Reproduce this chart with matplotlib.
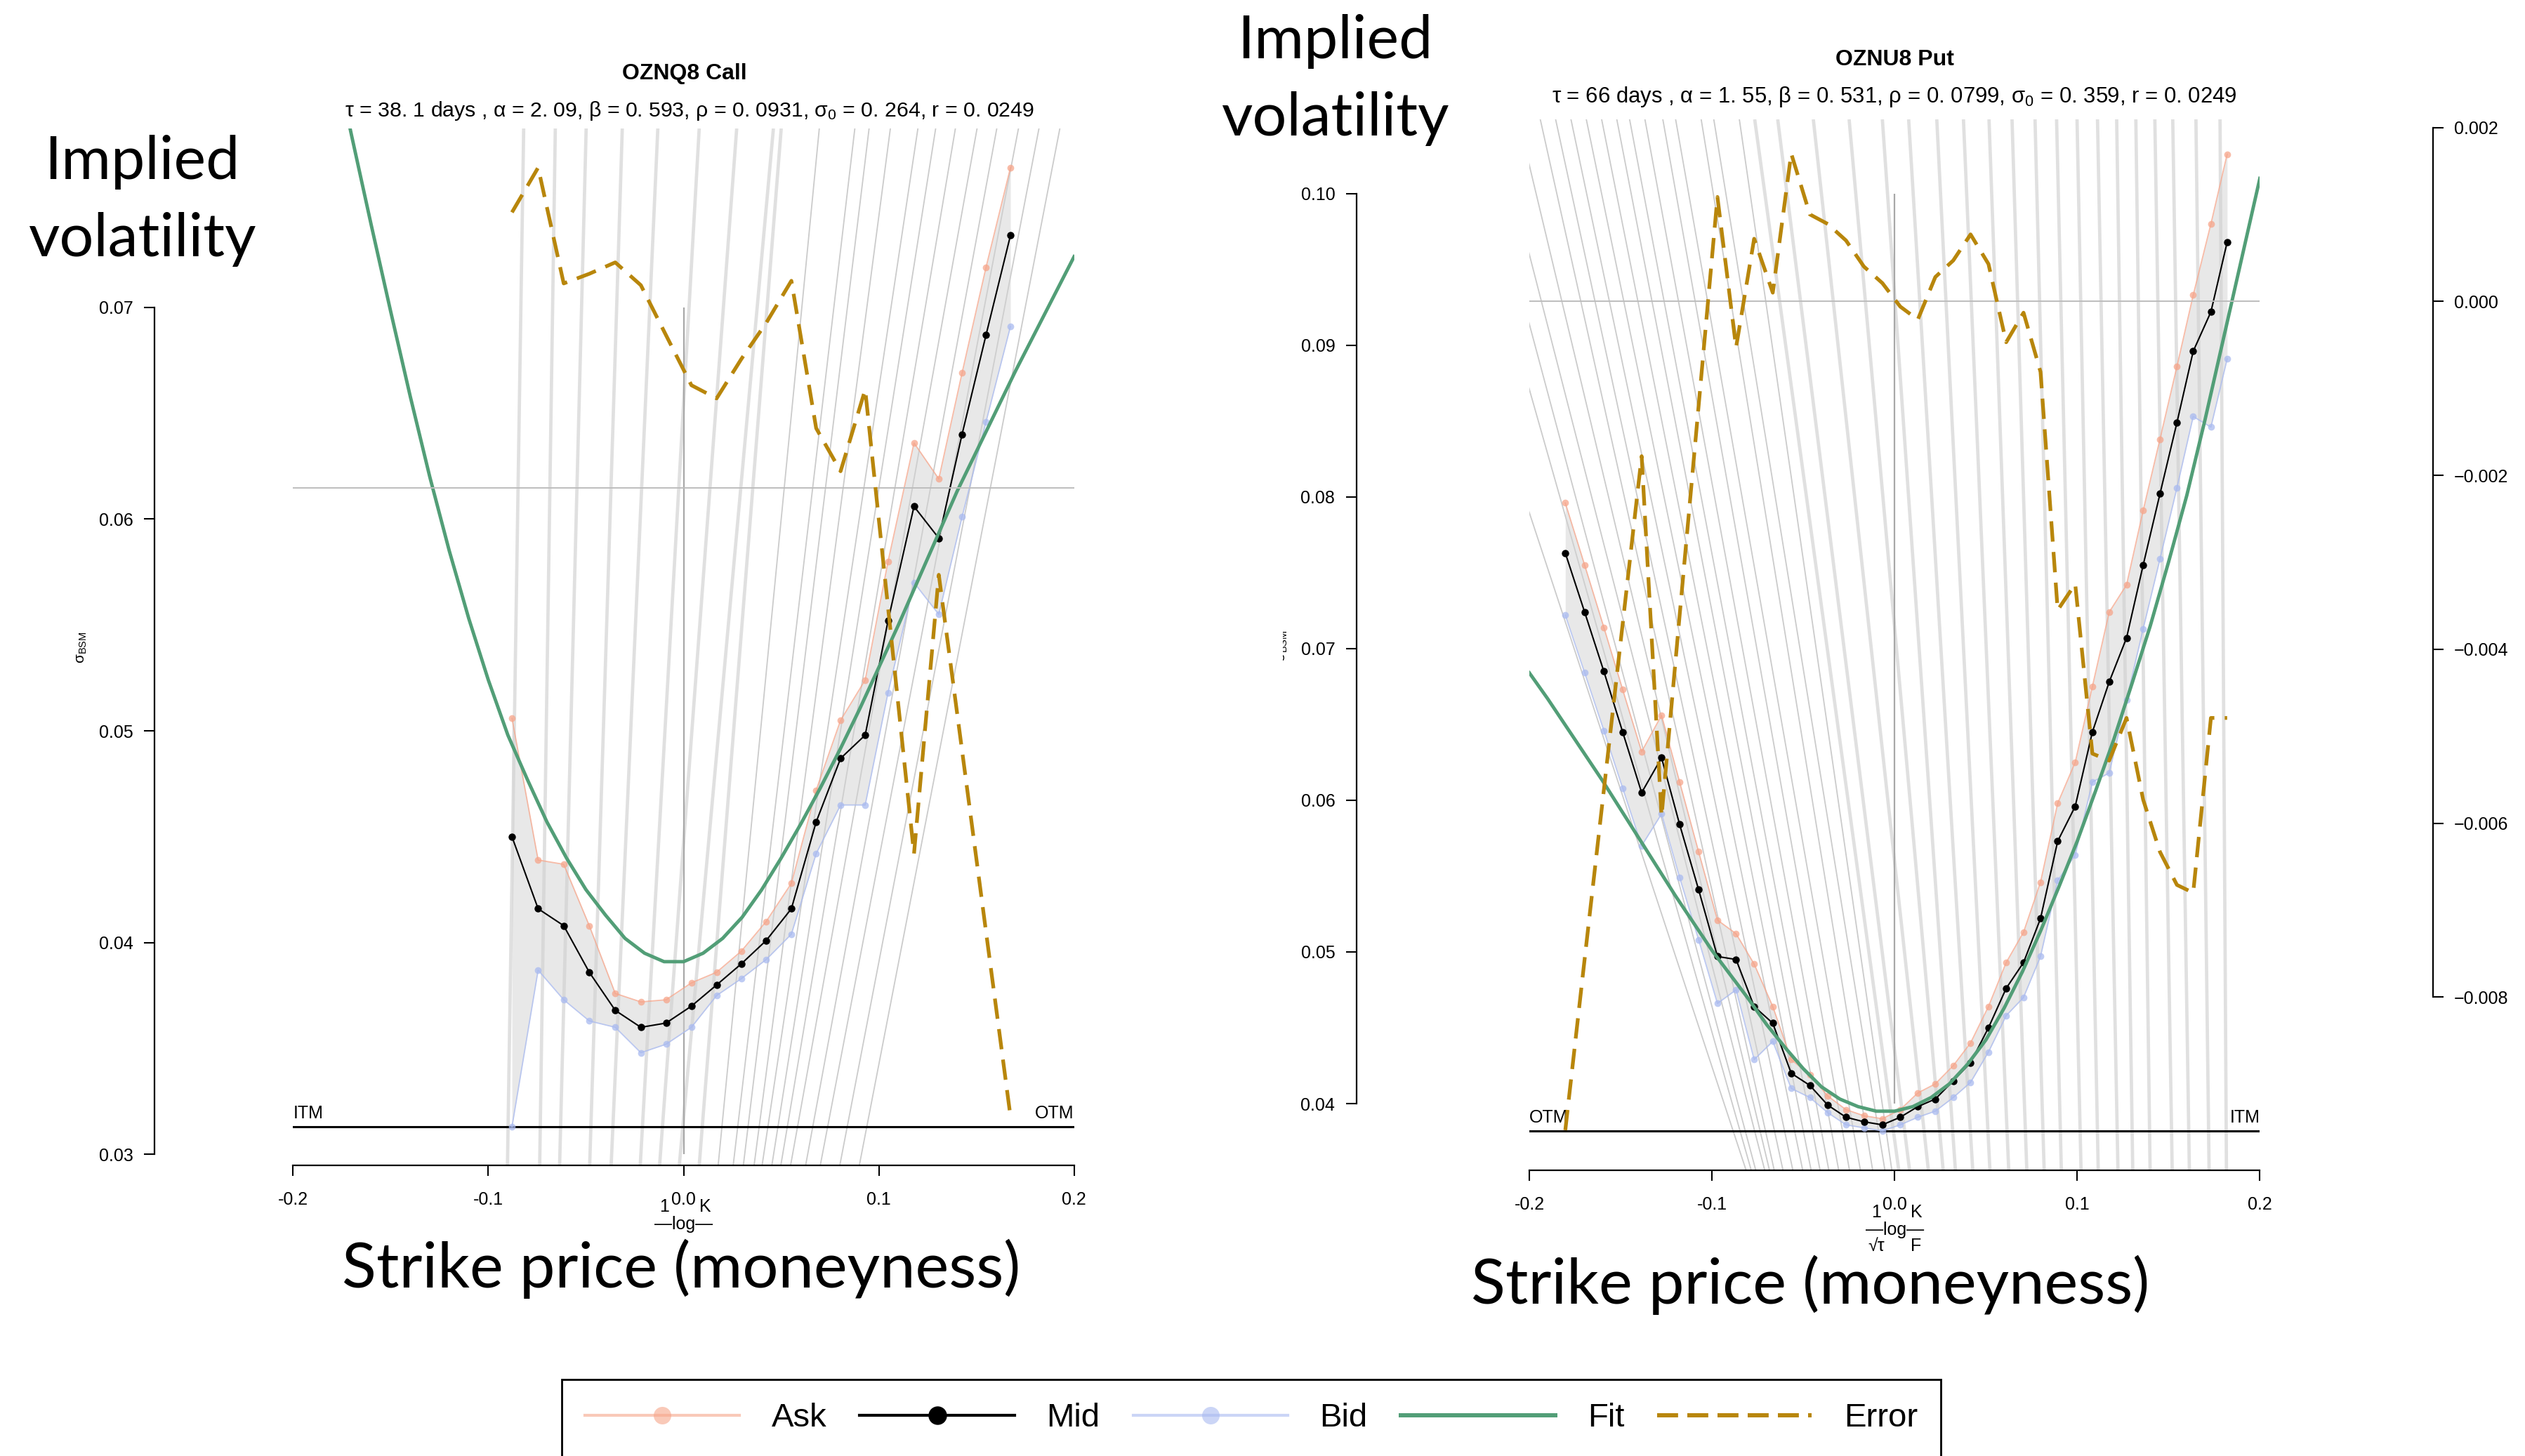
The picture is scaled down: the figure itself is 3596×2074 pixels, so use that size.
import matplotlib
matplotlib.use('Agg')
import matplotlib.pyplot as plt
from matplotlib.lines import Line2D
from matplotlib.transforms import Bbox

plt.rcParams['font.family'] = ['Liberation Sans', 'DejaVu Sans']
plt.rcParams['mathtext.fontset'] = 'custom'
plt.rcParams['mathtext.rm'] = 'Liberation Sans'
plt.rcParams['mathtext.it'] = 'Liberation Sans:italic'
plt.rcParams['axes.unicode_minus'] = False

W, H = 3596, 2074

# ---------------- OZNQ8 call ----------------
call_k = [-0.0879, -0.0745, -0.0614, -0.0483, -0.0350, -0.0219, -0.0090, 0.0040, 0.0169, 0.0296, 0.0423,
          0.0552, 0.0679, 0.0804, 0.0930, 0.1047, 0.1180, 0.1307, 0.1426, 0.1549, 0.1674]
call_ask = [0.0506, 0.0439, 0.0437, 0.0408, 0.0376, 0.0372, 0.0373, 0.0381, 0.0386, 0.0396, 0.0410,
            0.0428, 0.0472, 0.0505, 0.0524, 0.0580, 0.0636, 0.0619, 0.0669, 0.0719, 0.0766]
call_mid = [0.0450, 0.0416, 0.0408, 0.0386, 0.0368, 0.0360, 0.0362, 0.0370, 0.0380, 0.0390, 0.0401,
            0.0416, 0.0457, 0.0487, 0.0498, 0.0552, 0.0606, 0.0591, 0.0640, 0.0687, 0.0734]
call_bid = [0.0313, 0.0387, 0.0373, 0.0363, 0.0360, 0.0348, 0.0352, 0.0360, 0.0375, 0.0383, 0.0392,
            0.0404, 0.0442, 0.0465, 0.0465, 0.0518, 0.0570, 0.0555, 0.0601, 0.0646, 0.0691]
call_err = [0.00314, 0.00365, 0.00233, 0.00244, 0.00257, 0.00231, 0.00174, 0.00117, 0.00102, 0.00147, 0.00188,
            0.00236, 0.00068, 0.00019, 0.00112, -0.00136, -0.00417, -0.00099, -0.00299, -0.00506, -0.00716]
fit_k = [-0.20, -0.19, -0.18, -0.17, -0.16, -0.15, -0.14, -0.13, -0.12, -0.11, -0.10,
         -0.09, -0.08, -0.07, -0.06, -0.05, -0.04, -0.03, -0.02, -0.01, 0.00,
         0.01, 0.02, 0.03, 0.04, 0.05, 0.06, 0.07, 0.08, 0.09, 0.10,
         0.11, 0.12, 0.13, 0.14, 0.15, 0.16, 0.17, 0.18, 0.19, 0.20]
call_fit = [0.0911, 0.0867, 0.0824, 0.0781, 0.0739, 0.0698, 0.0658, 0.0620, 0.0585, 0.0553, 0.0524,
            0.0498, 0.0477, 0.0457, 0.0440, 0.0425, 0.0413, 0.0402, 0.0395, 0.0391, 0.0391,
            0.0395, 0.0402, 0.0412, 0.0425, 0.0440, 0.0456, 0.0473, 0.0491, 0.0510, 0.0530,
            0.0550, 0.0571, 0.0592, 0.0613, 0.0632, 0.0651, 0.0670, 0.0688, 0.0706, 0.0724]
# strike guide lines: moneyness where each one meets the bottom / top of the panel
call_iso_lo = [-0.0902, -0.0737, -0.0635, -0.0481, -0.0371, -0.0222, -0.0123, -0.0022, 0.0080, 0.0177, 0.0254,
               0.0306, 0.0361, 0.0402, 0.0452, 0.0498, 0.0548, 0.0625, 0.0700, 0.0800, 0.0900]
call_iso_hi = [-0.0819, -0.0657, -0.0499, -0.0314, -0.0132, 0.0080, 0.0272, 0.0460, 0.0500, 0.0695, 0.0877,
               0.0950, 0.1059, 0.1200, 0.1291, 0.1392, 0.1503, 0.1604, 0.1715, 0.1820, 0.1927]
call_itm = 0.0313
call_title = 'OZNQ8 Call'
call_sub = 'τ = 38. 1 days , α = 2. 09, β = 0. 593, ρ = 0. 0931, σ$_0$ = 0. 264, r = 0. 0249'

# ---------------- OZNU8 put ----------------
put_k = [-0.1803, -0.1697, -0.1592, -0.1489, -0.1385, -0.1276, -0.1177, -0.1073, -0.0970, -0.0868, -0.0769,
         -0.0667, -0.0566, -0.0464, -0.0366, -0.0266, -0.0168, -0.0067, 0.0031, 0.0127, 0.0223, 0.0321,
         0.0416, 0.0514, 0.0611, 0.0706, 0.0799, 0.0893, 0.0989, 0.1083, 0.1175, 0.1270, 0.1361, 0.1453,
         0.1546, 0.1635, 0.1732, 0.1821]
put_ask = [0.0796, 0.0755, 0.0714, 0.0673, 0.0632, 0.0656, 0.0612, 0.0566, 0.0521, 0.0512, 0.0492,
           0.0464, 0.0429, 0.0419, 0.0405, 0.0396, 0.0392, 0.0390, 0.0396, 0.0407, 0.0413, 0.0425,
           0.0440, 0.0464, 0.0493, 0.0513, 0.0546, 0.0598, 0.0625, 0.0675, 0.0724, 0.0742, 0.0791, 0.0838,
           0.0886, 0.0933, 0.0980, 0.1026]
put_mid = [0.0763, 0.0724, 0.0685, 0.0645, 0.0605, 0.0628, 0.0584, 0.0541, 0.0497, 0.0495, 0.0464,
           0.0453, 0.0420, 0.0412, 0.0399, 0.0391, 0.0388, 0.0386, 0.0391, 0.0398, 0.0403, 0.0415,
           0.0427, 0.0450, 0.0476, 0.0493, 0.0522, 0.0573, 0.0596, 0.0645, 0.0678, 0.0707, 0.0755, 0.0802,
           0.0849, 0.0896, 0.0922, 0.0968]
put_bid = [0.0722, 0.0684, 0.0646, 0.0608, 0.0570, 0.0591, 0.0549, 0.0508, 0.0466, 0.0475, 0.0429,
           0.0441, 0.0410, 0.0404, 0.0394, 0.0386, 0.0384, 0.0382, 0.0386, 0.0391, 0.0395, 0.0404,
           0.0414, 0.0434, 0.0458, 0.0470, 0.0497, 0.0547, 0.0564, 0.0612, 0.0618, 0.0666, 0.0713, 0.0759,
           0.0806, 0.0853, 0.0846, 0.0891]
put_err = [-0.00953, -0.00756, -0.00562, -0.00371, -0.00178, -0.00592, -0.00361, -0.00120, 0.00120, -0.00053, 0.00072,
           0.00010, 0.00170, 0.00100, 0.00089, 0.00070, 0.00040, 0.00021, -0.00006, -0.00021, 0.00028, 0.00047,
           0.00077, 0.00043, -0.00047, -0.00013, -0.00081, -0.00355, -0.00325, -0.00520, -0.00528, -0.00479,
           -0.00573, -0.00633, -0.00671, -0.00680, -0.00479, -0.00479]
put_fit = [0.0684, 0.0667, 0.0649, 0.0631, 0.0613, 0.0594, 0.0575, 0.0556, 0.0537, 0.0519, 0.0501,
           0.0485, 0.0469, 0.0452, 0.0437, 0.0423, 0.0411, 0.0403, 0.0398, 0.0395, 0.0395,
           0.0398, 0.0404, 0.0413, 0.0426, 0.0442, 0.0463, 0.0487, 0.0514, 0.0543, 0.0573,
           0.0606, 0.0640, 0.0677, 0.0715, 0.0757, 0.0801, 0.0851, 0.0904, 0.0957, 0.1010]
put_iso_lo = [-0.0813, -0.0785, -0.0760, -0.0711, -0.0685, -0.0659, -0.0611, -0.0557, -0.0503, -0.0457, -0.0408,
              -0.0360, -0.0306, -0.0247, -0.0187, -0.0120, -0.0053, -0.0015, 0.0023, 0.0082, 0.0185, 0.0266,
              0.0333, 0.0428, 0.0522, 0.0625, 0.0724, 0.0819, 0.0913, 0.1021, 0.1115, 0.1223, 0.1304, 0.1399,
              0.1520, 0.1614, 0.1722, 0.1817]
put_iso_hi = [-0.271, -0.242, -0.230, -0.219, -0.206, -0.194, -0.1856, -0.1772, -0.1688, -0.1604, -0.1521,
              -0.1451, -0.1367, -0.1269, -0.1199, -0.1059, -0.0990, -0.0850, -0.0766, -0.0640, -0.0445, -0.0249,
              -0.0067, 0.0077, 0.0231, 0.0377, 0.0517, 0.0643, 0.0769, 0.0887, 0.0999, 0.1111, 0.1216, 0.1321,
              0.1425, 0.1523, 0.1650, 0.1782]
put_itm = 0.0382
put_title = 'OZNU8 Put'
put_sub = 'τ = 66 days , α = 1. 55, β = 0. 531, ρ = 0. 0799, σ$_0$ = 0. 359, r = 0. 0249'

x_ticks = [-0.2, -0.1, 0.0, 0.1, 0.2]
x_labels = ['-0.2', '-0.1', '0.0', '0.1', '0.2']
call_yticks = [0.03, 0.04, 0.05, 0.06, 0.07]
put_yticks = [0.04, 0.05, 0.06, 0.07, 0.08, 0.09, 0.10]
err_ticks = [-0.008, -0.006, -0.004, -0.002, 0.000, 0.002]

ASK = '#f6a58a'
BID = '#a9baf0'
FIT = '#529e77'
ERR = '#b8860b'


def fx(px):
    return px / W


def fy(py):
    return 1 - py / H


def panel(rect, ylim, elim, k, ask, mid, bid, err, fit, iso_lo, iso_hi, itm, itm_left,
          yticks, guide, spine_out, show_err_axis):
    ax = fig.add_axes(rect)
    ax.set_xlim(-0.2, 0.2)
    ax.set_ylim(*ylim)

    # strike guide lines, thick and pale on the in-the-money side
    for lo, hi in zip(iso_lo, iso_hi):
        itm_side = (lo < 0.01) if itm_left else (lo > 0.0)
        if itm_side:
            ax.plot([lo, hi], ylim, color='#e0e0e0', lw=3.4, zorder=1, solid_capstyle='butt')
        else:
            ax.plot([lo, hi], ylim, color='#cbcbcb', lw=1.3, zorder=1)
    ax.vlines(0, guide[0], guide[1], color='#a8a8a8', lw=1.6, zorder=2)
    ax.axhline(itm, color='black', lw=2.2, zorder=3)

    ax.fill_between(k, bid, ask, color='#d2d2d2', alpha=0.5, lw=0, zorder=3)
    ax.plot(k, ask, color=ASK, lw=1.3, alpha=0.75, marker='o', ms=7, mec='none', zorder=4)
    ax.plot(k, bid, color=BID, lw=1.3, alpha=0.75, marker='o', ms=7, mec='none', zorder=4)
    ax.plot(k, mid, color='black', lw=1.5, marker='o', ms=7.5, mec='none', zorder=5)
    ax.plot(fit_k, fit, color=FIT, lw=3.5, zorder=6)

    for s in ['top', 'right']:
        ax.spines[s].set_visible(False)
    ax.spines['bottom'].set_linewidth(1.6)
    ax.spines['left'].set_linewidth(1.6)
    ax.spines['left'].set_position(('outward', spine_out))
    ax.spines['left'].set_bounds(yticks[0], yticks[-1])
    ax.set_xticks(x_ticks)
    ax.set_xticklabels(x_labels)
    ax.set_yticks(yticks)
    ax.set_yticklabels(['%.2f' % v for v in yticks])
    ax.tick_params(axis='both', length=10.8, width=1.5, labelsize=18, direction='out')
    ax.tick_params(axis='x', pad=16)
    ax.tick_params(axis='y', pad=11)

    tw = ax.twinx()
    tw.set_ylim(*elim)
    tw.axhline(0, color='#bdbdbd', lw=1.4, zorder=1)
    tw.plot(k, err, color=ERR, lw=3.8, dashes=(5.5, 2.8), zorder=7)
    for s in ['top', 'left', 'bottom']:
        tw.spines[s].set_visible(False)
    if show_err_axis:
        tw.spines['right'].set_linewidth(1.6)
        tw.spines['right'].set_position(('outward', spine_out))
        tw.spines['right'].set_bounds(err_ticks[0], err_ticks[-1])
        tw.set_yticks(err_ticks)
        tw.set_yticklabels(['%.3f' % v if v >= 0 else '\u2212%.3f' % -v for v in err_ticks])
        tw.tick_params(axis='y', length=10.8, width=1.5, labelsize=18, pad=11)
    else:
        tw.spines['right'].set_visible(False)
        tw.set_yticks([])

    lab_l, lab_r = ('ITM', 'OTM') if itm_left else ('OTM', 'ITM')
    ax.annotate(lab_l, (-0.2, itm), xytext=(0, 5), textcoords='offset points',
                ha='left', va='bottom', fontsize=18, zorder=8)
    ax.annotate(lab_r, (0.2, itm), xytext=(0, 5), textcoords='offset points',
                ha='right', va='bottom', fontsize=18, zorder=8)
    return ax


fig = plt.figure(figsize=(W / 100, H / 100), dpi=100)

panel([fx(417.4), fy(1660), fx(1529.7 - 417.4), (1660 - 183) / H], (0.02948, 0.07845), (-0.00772, 0.004096),
      call_k, call_ask, call_mid, call_bid, call_err, call_fit, call_iso_lo, call_iso_hi, call_itm, True,
      call_yticks, (0.03, 0.07), 142, False)
panel([fx(2178), fy(1667), fx(3218.4 - 2178), (1667 - 170) / H], (0.035603, 0.104892), (-0.009991, 0.002093),
      put_k, put_ask, put_mid, put_bid, put_err, put_fit, put_iso_lo, put_iso_hi, put_itm, False,
      put_yticks, (0.04, 0.10), 177.4, True)

# titles
fig.text(fx(975), fy(105), call_title, ha='center', va='center', fontsize=23, fontweight='bold')
fig.text(fx(982), fy(158), call_sub, ha='center', va='center', fontsize=21.8,
         family=['Liberation Sans', 'DejaVu Sans'])
fig.text(fx(2698), fy(85), put_title, ha='center', va='center', fontsize=23, fontweight='bold')
fig.text(fx(2698), fy(138), put_sub, ha='center', va='center', fontsize=22.4,
         family=['Liberation Sans', 'DejaVu Sans'])

# axis captions
big = dict(ha='center', va='center', fontsize=62, family=['Lato', 'DejaVu Sans'])
fig.text(fx(202), fy(231), 'Implied', **big)
fig.text(fx(202), fy(341), 'volatility', **big)
fig.text(fx(1901), fy(59), 'Implied', **big)
fig.text(fx(1901), fy(169), 'volatility', **big)
cap = dict(big, fontsize=65)
fig.text(fx(970), fy(1807), 'Strike price (moneyness)', **cap)
fig.text(fx(2578), fy(1830), 'Strike price (moneyness)', **cap)

fig.text(fx(116), fy(922), 'σ$_{\\mathrm{BSM}}$', rotation=90, ha='center', va='center', fontsize=15)
ylab = fig.text(fx(1827), fy(920), 'σ$_{\\mathrm{BSM}}$', rotation=90, ha='center', va='center', fontsize=15)
ylab.set_clip_box(Bbox.from_extents(1827, 0, W, H))
ylab.set_clip_on(True)

# the garbled moneyness label under the x axes
small = dict(ha='center', va='center', fontsize=18)
fig.text(fx(946), fy(1719), '1', **small)
fig.text(fx(1004), fy(1719), 'K', **small)
fig.text(fx(974), fy(1744), '—log—', **small)
fig.text(fx(2672), fy(1727), '1', **small)
fig.text(fx(2729), fy(1727), 'K', **small)
fig.text(fx(2699), fy(1752), '—log—', **small)
fig.text(fx(2672), fy(1775), '√τ', **small)
fig.text(fx(2729), fy(1775), 'F', **small)

handles = [
    Line2D([], [], color=ASK, lw=3, alpha=0.6, marker='o', ms=18, mec='none'),
    Line2D([], [], color='black', lw=3, marker='o', ms=18),
    Line2D([], [], color=BID, lw=3, alpha=0.6, marker='o', ms=18, mec='none'),
    Line2D([], [], color=FIT, lw=4.3),
    Line2D([], [], color=ERR, lw=4.3, dashes=(5, 2.2)),
]
leg = fig.legend(handles, ['Ask', 'Mid', 'Bid', 'Fit', 'Error'], loc='upper center',
                 bbox_to_anchor=(fx(1782), fy(1965)), ncol=5, fontsize=34, frameon=True,
                 fancybox=False, edgecolor='black', framealpha=1, handlelength=4.66,
                 handletextpad=0.97, columnspacing=1.0, borderpad=0.7, borderaxespad=0)
leg.get_frame().set_linewidth(2)

fig.savefig('out.png', dpi=100)
